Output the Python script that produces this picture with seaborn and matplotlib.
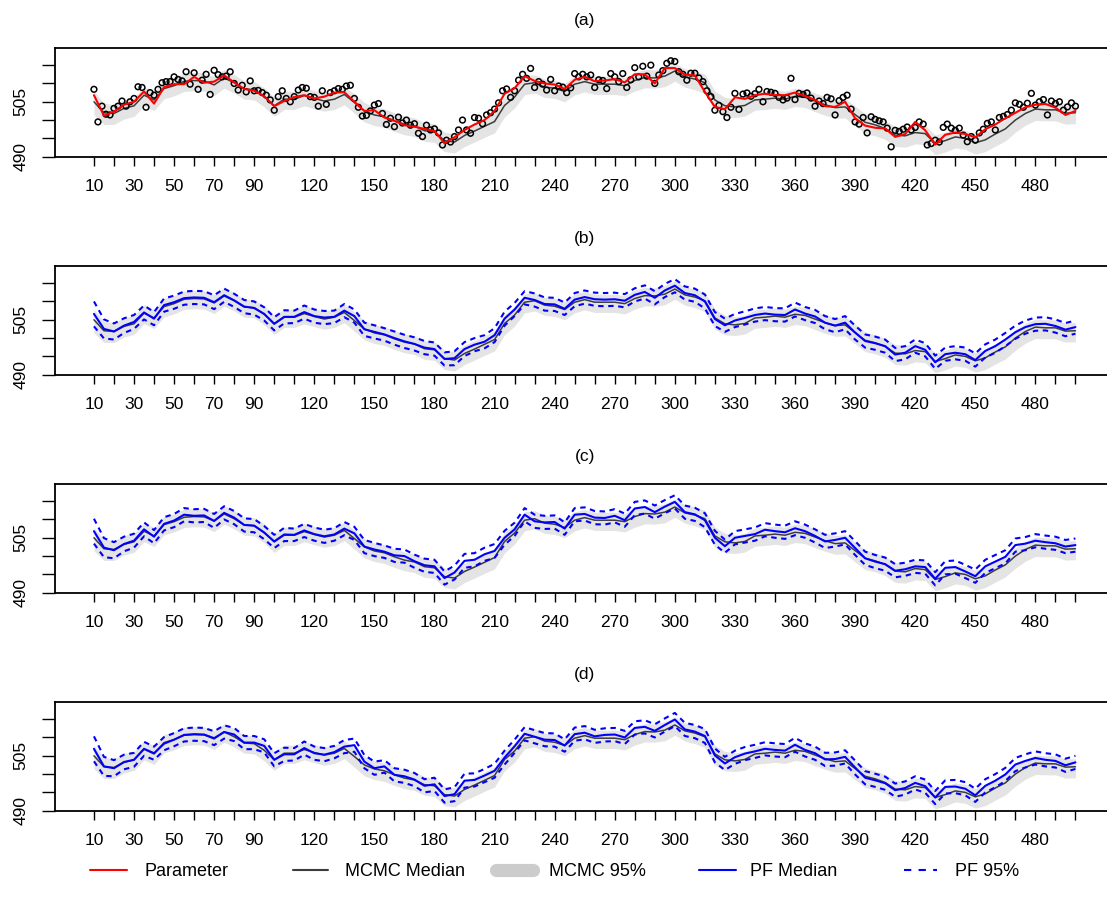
import matplotlib
matplotlib.use("Agg")
import matplotlib.pyplot as plt
import seaborn as sns
from matplotlib.lines import Line2D

sns.set_theme(style="white")
plt.rcParams['font.family'] = ['Liberation Sans', 'DejaVu Sans']
plt.rcParams['text.color'] = 'black'

# ---------------- data ----------------
t_line = list(range(10, 501, 5))
t_obs = list(range(10, 501, 2))

param = [506.8, 501.2, 502.3, 504.2, 505.0, 507.8, 504.5, 509.0, 509.8, 509.8,
         511.8, 510.2, 510.5, 512.2, 510.3, 508.5, 508.0, 506.5, 503.8, 505.2,
         506.3, 506.8, 505.9, 506.4, 507.5, 507.6, 505.0, 502.5, 502.7, 500.7,
         499.8, 498.6, 498.2, 497.6, 497.0, 493.7, 495.3, 497.3, 498.8, 500.0,
         502.5, 507.2, 508.7, 512.0, 510.7, 510.0, 509.7, 508.5, 511.0, 511.8,
         510.6, 510.8, 511.2, 510.3, 512.5, 512.5, 510.0, 514.2, 514.2, 512.4,
         512.2, 507.7, 503.6, 503.0, 506.2, 505.8, 506.8, 507.2, 506.8, 506.8,
         507.5, 506.6, 505.5, 503.8, 503.6, 505.0, 500.5, 498.5, 497.9, 497.7,
         495.4, 496.2, 499.5, 497.2, 493.3, 496.0, 496.6, 496.2, 495.3, 497.5,
         498.8, 500.5, 502.0, 503.5, 504.2, 504.4, 503.4, 501.4, 502.5]

obs = [508.4, 499.5, 503.8, 501.6, 501.4, 503.2, 503.8, 505.2, 503.8, 505.0,
       505.9, 509.1, 508.9, 503.5, 507.5, 506.8, 508.4, 510.2, 510.5, 510.5,
       511.8, 511.1, 510.7, 513.2, 509.8, 512.9, 508.4, 510.9, 512.5, 507.0,
       513.6, 512.4, 511.8, 512.0, 513.2, 510.0, 508.2, 509.5, 507.7, 510.7,
       508.0, 508.1, 507.5, 506.8, 505.5, 502.7, 506.4, 508.0, 505.9, 505.0,
       506.4, 508.2, 508.9, 508.7, 506.4, 506.2, 503.8, 508.0, 504.3, 507.5,
       508.0, 508.6, 508.4, 509.3, 509.5, 505.9, 503.5, 501.1, 501.3, 502.5,
       504.1, 504.5, 501.8, 498.8, 500.5, 498.2, 500.8, 499.2, 500.0, 498.6,
       499.0, 496.4, 495.5, 498.6, 497.3, 497.6, 496.5, 493.2, 494.5, 494.0,
       495.5, 497.3, 500.0, 497.3, 496.4, 500.7, 500.5, 499.0, 501.4, 502.0,
       503.0, 504.7, 508.0, 508.5, 506.2, 508.0, 510.9, 512.5, 511.4, 514.1,
       508.9, 510.5, 509.8, 508.2, 511.1, 508.0, 509.3, 509.0, 507.5, 508.8,
       512.7, 511.8, 512.5, 511.8, 512.3, 508.9, 511.0, 510.8, 508.6, 512.7,
       511.8, 510.5, 512.7, 508.9, 511.0, 514.3, 511.8, 514.7, 512.0, 515.0,
       510.0, 512.3, 513.5, 515.5, 516.2, 516.0, 513.2, 512.5, 510.9, 512.8,
       512.8, 511.5, 510.5, 508.0, 506.4, 502.7, 504.0, 502.3, 500.7, 503.5,
       507.3, 502.9, 507.1, 507.4, 506.5, 507.2, 508.4, 505.0, 507.8, 507.6,
       507.3, 506.2, 505.5, 506.0, 511.4, 505.6, 507.3, 507.0, 507.4, 506.0,
       503.8, 505.2, 504.5, 506.2, 505.8, 501.4, 505.3, 506.2, 506.8, 503.0,
       499.5, 498.9, 500.7, 496.5, 500.9, 500.2, 499.8, 499.5, 497.8, 492.7,
       497.2, 496.9, 497.5, 498.1, 497.3, 498.0, 499.5, 498.9, 493.2, 493.6,
       494.5, 494.0, 498.0, 498.9, 497.8, 497.2, 497.8, 495.9, 494.1, 495.5,
       494.5, 496.5, 497.5, 499.1, 499.5, 497.3, 500.7, 501.0, 501.5, 502.7,
       504.7, 504.3, 503.5, 504.6, 507.3, 504.1, 505.0, 505.6, 501.4, 505.2,
       504.5, 505.0, 502.7, 503.6, 504.7, 503.8]

mcmc_med = [505.0, 502.0, 501.8, 503.2, 503.9, 506.8, 505.5, 508.6, 509.4, 510.6,
            510.8, 510.7, 509.6, 511.5, 510.2, 508.5, 508.3, 506.5, 503.9, 505.7,
            505.7, 506.7, 505.9, 505.2, 505.7, 507.0, 504.8, 502.5, 501.4, 500.9,
            499.8, 498.9, 498.4, 497.1, 496.8, 494.4, 494.0, 495.8, 497.0, 498.3,
            499.6, 504.0, 506.3, 509.8, 510.2, 509.0, 508.7, 507.8, 509.8, 510.5,
            509.8, 509.8, 509.8, 509.4, 510.8, 511.6, 511.5, 512.0, 513.4, 511.8,
            511.2, 510.2, 505.5, 503.9, 503.6, 504.0, 505.5, 505.7, 506.0, 505.7,
            506.5, 506.2, 505.2, 504.2, 503.4, 503.6, 501.5, 499.4, 498.7, 497.7,
            495.9, 495.7, 496.6, 496.3, 493.6, 494.4, 495.4, 495.0, 493.8, 494.6,
            496.2, 497.6, 500.0, 501.8, 503.0, 502.8, 502.8, 501.9, 502.0]

# distance of the MCMC 95% band above / below the median
mcmc_up = [2.8, 2.6, 2.4, 2.4, 2.3, 2.3, 2.3, 2.2, 2.2, 2.2,
           2.2, 2.2, 2.3, 2.2, 2.2, 2.2, 2.2, 2.3, 2.3, 2.2,
           2.2, 2.2, 2.2, 2.2, 2.2, 2.2, 2.3, 2.3, 2.2, 2.2,
           2.2, 2.2, 2.2, 2.2, 2.2, 2.3, 2.3, 2.3, 2.3, 2.3,
           2.4, 2.4, 2.3, 2.3, 2.2, 2.2, 2.2, 2.2, 2.3, 2.2,
           2.2, 2.2, 2.2, 2.2, 2.3, 2.2, 2.2, 2.3, 2.2, 2.2,
           2.2, 2.3, 2.4, 2.3, 2.2, 2.2, 2.2, 2.2, 2.2, 2.2,
           2.2, 2.2, 2.2, 2.2, 2.2, 2.3, 2.3, 2.3, 2.2, 2.2,
           2.3, 2.3, 2.3, 2.2, 2.3, 2.3, 2.2, 2.2, 2.3, 2.3,
           2.3, 2.3, 2.3, 2.2, 2.2, 2.2, 2.2, 2.2, 2.2]
mcmc_dn = [3.6, 3.2, 3.0, 2.9, 2.9, 2.9, 2.9, 2.8, 2.8, 2.8,
           2.8, 2.8, 2.9, 2.8, 2.8, 2.8, 2.8, 2.9, 2.9, 2.8,
           2.8, 2.8, 2.8, 2.8, 2.8, 2.8, 2.9, 3.0, 2.9, 2.9,
           2.9, 2.9, 2.9, 2.9, 2.9, 3.0, 3.0, 3.0, 3.0, 3.0,
           3.1, 3.1, 3.0, 2.9, 2.8, 2.8, 2.8, 2.8, 2.9, 2.8,
           2.8, 2.8, 2.8, 2.8, 2.9, 2.8, 2.8, 2.9, 2.8, 2.8,
           2.9, 3.0, 3.1, 3.0, 2.9, 2.9, 2.8, 2.8, 2.8, 2.8,
           2.8, 2.8, 2.9, 2.9, 2.9, 3.0, 3.1, 3.1, 3.0, 3.0,
           3.1, 3.1, 3.1, 3.0, 3.1, 3.1, 3.0, 3.0, 3.1, 3.2,
           3.3, 3.3, 3.3, 3.2, 3.1, 3.0, 3.0, 3.0, 3.0]

pf_b = [506.6, 502.5, 501.8, 503.4, 504.4, 507.0, 505.3, 509.0, 509.8, 510.9,
        511.1, 511.0, 509.8, 511.7, 510.3, 508.6, 508.2, 506.6, 503.9, 505.8,
        505.8, 507.1, 506.0, 505.6, 505.8, 507.5, 506.0, 502.4, 501.7, 501.0,
        500.0, 499.1, 498.4, 497.4, 497.0, 494.3, 494.5, 497.0, 498.2, 499.0,
        500.8, 505.3, 507.8, 511.0, 510.4, 509.3, 509.2, 508.0, 510.5, 511.2,
        510.6, 510.5, 510.6, 510.2, 511.8, 512.6, 511.0, 513.0, 514.3, 512.3,
        511.7, 510.0, 505.2, 503.5, 504.8, 505.5, 506.3, 506.7, 506.4, 506.3,
        507.8, 506.7, 505.9, 504.2, 503.4, 504.2, 501.5, 499.2, 498.6, 497.8,
        495.5, 496.0, 497.8, 496.8, 493.4, 495.6, 496.0, 495.6, 494.0, 496.5,
        497.8, 499.6, 501.6, 503.0, 503.8, 503.9, 503.3, 502.3, 503.0]

pf_c = [506.8, 502.3, 501.6, 503.3, 504.2, 507.3, 505.3, 508.8, 509.7, 511.3,
        511.0, 511.1, 509.6, 511.8, 510.5, 508.5, 508.3, 506.4, 504.0, 505.9,
        505.8, 507.0, 506.0, 505.4, 505.9, 507.5, 506.2, 502.6, 501.8, 501.2,
        500.2, 500.0, 498.6, 497.5, 497.2, 494.0, 495.5, 498.7, 499.0, 500.5,
        501.4, 505.0, 507.3, 511.3, 509.5, 509.2, 509.3, 507.5, 511.3, 511.5,
        510.5, 510.4, 511.0, 509.8, 513.0, 513.4, 512.0, 513.5, 514.8, 512.0,
        511.4, 509.8, 505.0, 502.7, 505.0, 505.5, 506.0, 507.2, 506.8, 506.5,
        507.6, 506.8, 505.5, 504.0, 504.4, 505.0, 502.2, 499.4, 498.5, 497.8,
        496.0, 496.4, 497.2, 497.0, 493.8, 496.8, 497.0, 495.8, 494.5, 497.2,
        498.5, 499.8, 503.0, 503.4, 504.2, 503.8, 503.5, 502.6, 503.0]

pf_d = [506.9, 502.1, 501.6, 503.3, 503.9, 506.9, 505.7, 508.3, 509.4, 510.7,
        510.9, 510.8, 509.8, 511.5, 510.8, 508.6, 508.6, 507.7, 503.9, 505.4,
        505.4, 507.1, 505.7, 505.3, 506.0, 507.5, 507.9, 503.4, 501.6, 502.1,
        499.8, 499.4, 498.5, 496.8, 497.2, 494.0, 494.5, 498.2, 498.4, 499.6,
        500.9, 504.5, 507.6, 511.0, 510.2, 509.4, 509.3, 507.8, 510.9, 511.3,
        510.3, 510.7, 510.8, 510.0, 512.6, 512.9, 511.8, 513.4, 514.9, 512.2,
        511.6, 510.4, 505.1, 502.9, 504.6, 505.6, 506.2, 506.9, 506.6, 506.4,
        508.0, 506.6, 505.7, 504.0, 504.1, 504.7, 501.8, 499.0, 498.3, 497.5,
        495.6, 496.2, 497.6, 496.7, 493.6, 496.5, 496.6, 496.0, 494.2, 496.8,
        498.2, 499.9, 502.6, 503.6, 504.4, 503.9, 503.6, 502.4, 503.2]

# half width of the PF 95% interval
pf_hw = [3.4, 2.6, 2.2, 2.0, 1.9, 1.9, 1.8, 1.8, 1.8, 1.8,
         1.8, 1.8, 1.9, 1.8, 1.8, 1.8, 1.8, 1.8, 1.8, 1.8,
         1.7, 1.8, 1.8, 1.8, 1.7, 1.8, 1.8, 1.8, 1.8, 1.7,
         1.8, 1.8, 1.8, 1.8, 1.8, 1.8, 1.9, 1.9, 1.8, 1.8,
         1.9, 1.9, 1.8, 1.8, 1.8, 1.8, 1.8, 1.7, 1.8, 1.8,
         1.8, 1.8, 1.8, 1.8, 1.8, 1.8, 1.8, 1.8, 1.8, 1.8,
         1.8, 1.9, 1.9, 1.8, 1.8, 1.8, 1.8, 1.8, 1.8, 1.8,
         1.9, 1.8, 1.8, 1.8, 1.8, 1.8, 1.9, 1.8, 1.8, 1.8,
         1.8, 1.8, 1.8, 1.8, 1.8, 1.8, 1.8, 1.8, 1.8, 1.8,
         1.8, 1.8, 1.8, 1.8, 1.8, 1.8, 1.8, 1.8, 1.8]

panel_titles = ['(a)', '(b)', '(c)', '(d)']
pf_series = [None, pf_b, pf_c, pf_d]

x_ticks = list(range(10, 501, 10))
x_tick_labels = [10, 30, 50, 70, 90, 120, 150, 180, 210, 240, 270, 300,
                 330, 360, 390, 420, 450, 480]
y_ticks = [490, 495, 500, 505, 510, 515]
y_tick_labels = ['490', '', '', '505', '', '']

legend_labels = ['Parameter', 'MCMC Median', 'MCMC 95%', 'PF Median', 'PF 95%']

# ---------------- styling ----------------
RED = '#FF0000'
BLUE = '#0000FF'
MED = '#3C3C3C'
BAND = '#E4E4E4'
FS = 12.5

W, H = 1107, 908
fig = plt.figure(figsize=(W / 100, H / 100), dpi=100)


def rect(k):
    top = 48.3 + 218 * k
    bottom = 156.7 + 218 * k
    left, right = 54.7, 1114.7
    return [left / W, 1 - bottom / H, (right - left) / W, (bottom - top) / H]


mcmc_lo = [m - d for m, d in zip(mcmc_med, mcmc_dn)]
mcmc_hi = [m + u for m, u in zip(mcmc_med, mcmc_up)]

for k in range(4):
    ax = fig.add_axes(rect(k))
    ax.fill_between(t_line, mcmc_lo, mcmc_hi, color=BAND, linewidth=0, zorder=1)
    sns.lineplot(x=t_line, y=mcmc_med, ax=ax, color=MED, linewidth=1.1,
                 estimator=None, zorder=3)
    if k == 0:
        sns.scatterplot(x=t_obs, y=obs, ax=ax, marker='o', s=17,
                        facecolor='none', edgecolor='black', linewidth=1.1,
                        zorder=4)
        sns.lineplot(x=t_line, y=param, ax=ax, color=RED, linewidth=1.5,
                     estimator=None, zorder=5)
    else:
        pf = pf_series[k]
        pf_lo = [p - h for p, h in zip(pf, pf_hw)]
        pf_hi = [p + h for p, h in zip(pf, pf_hw)]
        sns.lineplot(x=t_line, y=pf, ax=ax, color=BLUE, linewidth=1.5,
                     estimator=None, zorder=5)
        for band in (pf_lo, pf_hi):
            sns.lineplot(x=t_line, y=band, ax=ax, color=BLUE, linewidth=1.5,
                         estimator=None, zorder=5)
            ax.lines[-1].set_dashes([2.6, 2.2])

    ax.set_xlim(-9.6, 519.6)
    ax.set_ylim(490, 519.6)
    ax.set_xticks(x_ticks)
    ax.set_xticklabels([str(v) if v in x_tick_labels else '' for v in x_ticks])
    ax.set_yticks(y_ticks)
    ax.set_yticklabels(y_tick_labels, rotation=90, va='center')
    ax.tick_params(axis='x', bottom=True, length=6.5, width=1.0, pad=9.5,
                   labelsize=FS, color='black', labelcolor='black')
    ax.tick_params(axis='y', left=True, length=9.5, width=1.0, pad=9.5,
                   labelsize=FS, color='black', labelcolor='black')
    for s in ax.spines.values():
        s.set_color('black')
        s.set_linewidth(1.3)
    ax.set_xlabel('')
    ax.set_ylabel('')
    ax.grid(False)
    ax.set_title(panel_titles[k], fontsize=FS, pad=17, color='black')

# ---------------- legend ----------------
handles = [
    Line2D([], [], color=RED, linewidth=1.5),
    Line2D([], [], color=MED, linewidth=1.5),
    Line2D([], [], color='#CCCCCC', linewidth=9.5, solid_capstyle='round'),
    Line2D([], [], color=BLUE, linewidth=1.5),
    Line2D([], [], color=BLUE, linewidth=1.5, dashes=[3.5, 3.5]),
]
leg_x = [90, 293, 495.5, 699, 904]
leg_hl = [2.05, 1.95, 2.1, 2.05, 1.8]
leg_pad = [0.95, 0.95, 0.85, 0.8, 1.05]
for h, lab, x, hl, tp in zip(handles, legend_labels, leg_x, leg_hl, leg_pad):
    lg = fig.legend(handles=[h], labels=[lab], loc='center left',
                    bbox_to_anchor=(x / W, 1 - 872 / H), frameon=False,
                    borderpad=0, borderaxespad=0, handlelength=hl,
                    handletextpad=tp, fontsize=13)
    for txt in lg.get_texts():
        txt.set_color('black')

fig.savefig('out.png', dpi=100)
